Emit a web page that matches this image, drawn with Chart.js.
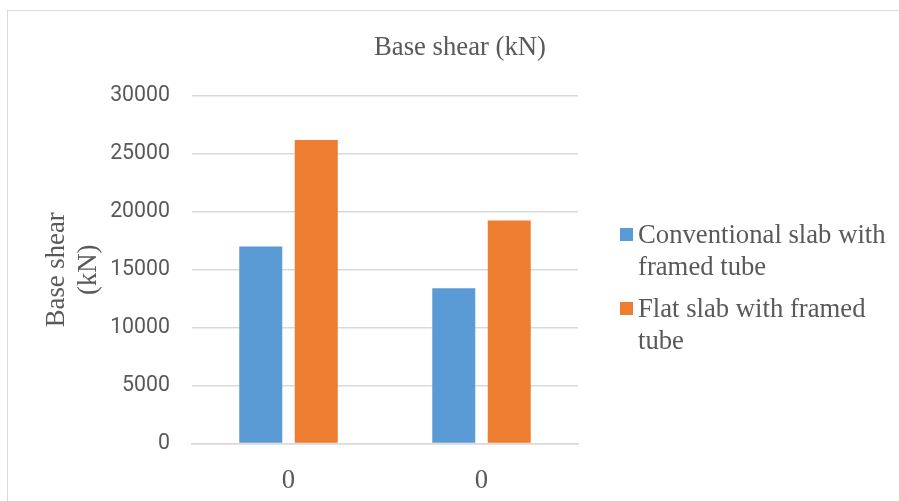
<!DOCTYPE html>
<html>
<head>
<meta charset="utf-8">
<script src="https://cdn.jsdelivr.net/npm/chart.js@4.4.1/dist/chart.umd.min.js"></script>
<style>
  html, body { margin: 0; padding: 0; background: #fff; overflow: hidden; width: 899px; height: 501px; }
  #frame { position: absolute; left: 7px; top: 10px; width: 906px; height: 491px;
           border-left: 1.5px solid #d9d9d9; border-top: 1.5px solid #d9d9d9; box-sizing: border-box; }
  #c { position: absolute; left: 7px; top: 10px; }
  #legend { position: absolute; left: 620px; top: 218px; font-family: "Liberation Serif", "Times New Roman", serif;
            font-size: 26.7px; line-height: 32px; color: #595959; }
  .item { display: flex; align-items: flex-start; margin-bottom: 10px; }
  .sw { width: 13px; height: 13px; margin-top: 9.5px; margin-right: 5px; flex: none; }
  .txt { width: 265px; }
</style>
</head>
<body>
<div id="frame"></div>
<canvas id="c" width="906" height="491"></canvas>
<div id="legend"></div>
<script>
const chartTitle = 'Base shear (kN)';
const categories = ['0', '0'];
const seriesNames = ['Conventional slab with framed tube', 'Flat slab with framed tube'];
const conventionalSlab = [17000, 13400];
const flatSlab = [26200, 19250];
const yTicks = [0, 5000, 10000, 15000, 20000, 25000, 30000];
const colors = ['#5B9BD5', '#ED7D31'];

const serif = '"Liberation Serif", "Times New Roman", serif';
const gray = '#595959';

const centeredTitle = {
  id: 'centeredTitle',
  afterDraw(chart) {
    const ctx = chart.ctx;
    ctx.save();
    ctx.font = '26.7px ' + serif;
    ctx.fillStyle = gray;
    ctx.textAlign = 'center';
    ctx.textBaseline = 'middle';
    ctx.fillText(chartTitle, chart.width / 2, 38);
    ctx.restore();
  }
};

const chart = new Chart(document.getElementById('c'), {
  type: 'bar',
  data: {
    labels: categories,
    datasets: [
      { label: seriesNames[0], data: conventionalSlab, backgroundColor: colors[0],
        categoryPercentage: 0.575, barPercentage: 0.775 },
      { label: seriesNames[1], data: flatSlab, backgroundColor: colors[1],
        categoryPercentage: 0.575, barPercentage: 0.775 }
    ]
  },
  plugins: [centeredTitle],
  options: {
    responsive: false,
    devicePixelRatio: 1,
    animation: false,
    layout: { padding: { left: 0, right: 335, top: 86, bottom: 0 } },
    plugins: {
      legend: { display: false },
      tooltip: { enabled: false },
      title: { display: false }
    },
    scales: {
      x: {
        grid: { display: false },
        border: { display: true, color: '#d9d9d9', width: 1.5 },
        ticks: { color: gray, font: { family: serif, size: 26.7 }, padding: 13 },
        afterFit: (s) => { s.height = 57.5; }
      },
      y: {
        min: 0, max: 30000,
        afterBuildTicks: (s) => { s.ticks = yTicks.map(v => ({ value: v })); },
        grid: { color: '#d9d9d9', lineWidth: 1.5, drawTicks: false },
        border: { display: false },
        ticks: { color: gray, font: { family: 'Roboto', size: 21.3 }, padding: 22,
                 callback: (v) => String(v) },
        title: {
          display: true,
          text: ['Base shear', '(kN)'],
          color: gray,
          font: { family: serif, size: 26.7, lineHeight: 1.2 },
          padding: { top: 34, bottom: 0 }
        },
        afterFit: (s) => { s.width = 185; }
      }
    }
  }
});

const legend = document.getElementById('legend');
chart.data.datasets.forEach((ds) => {
  const item = document.createElement('div');
  item.className = 'item';
  const sw = document.createElement('div');
  sw.className = 'sw';
  sw.style.background = ds.backgroundColor;
  const txt = document.createElement('div');
  txt.className = 'txt';
  txt.textContent = ds.label;
  item.appendChild(sw);
  item.appendChild(txt);
  legend.appendChild(item);
});
</script>
</body>
</html>
